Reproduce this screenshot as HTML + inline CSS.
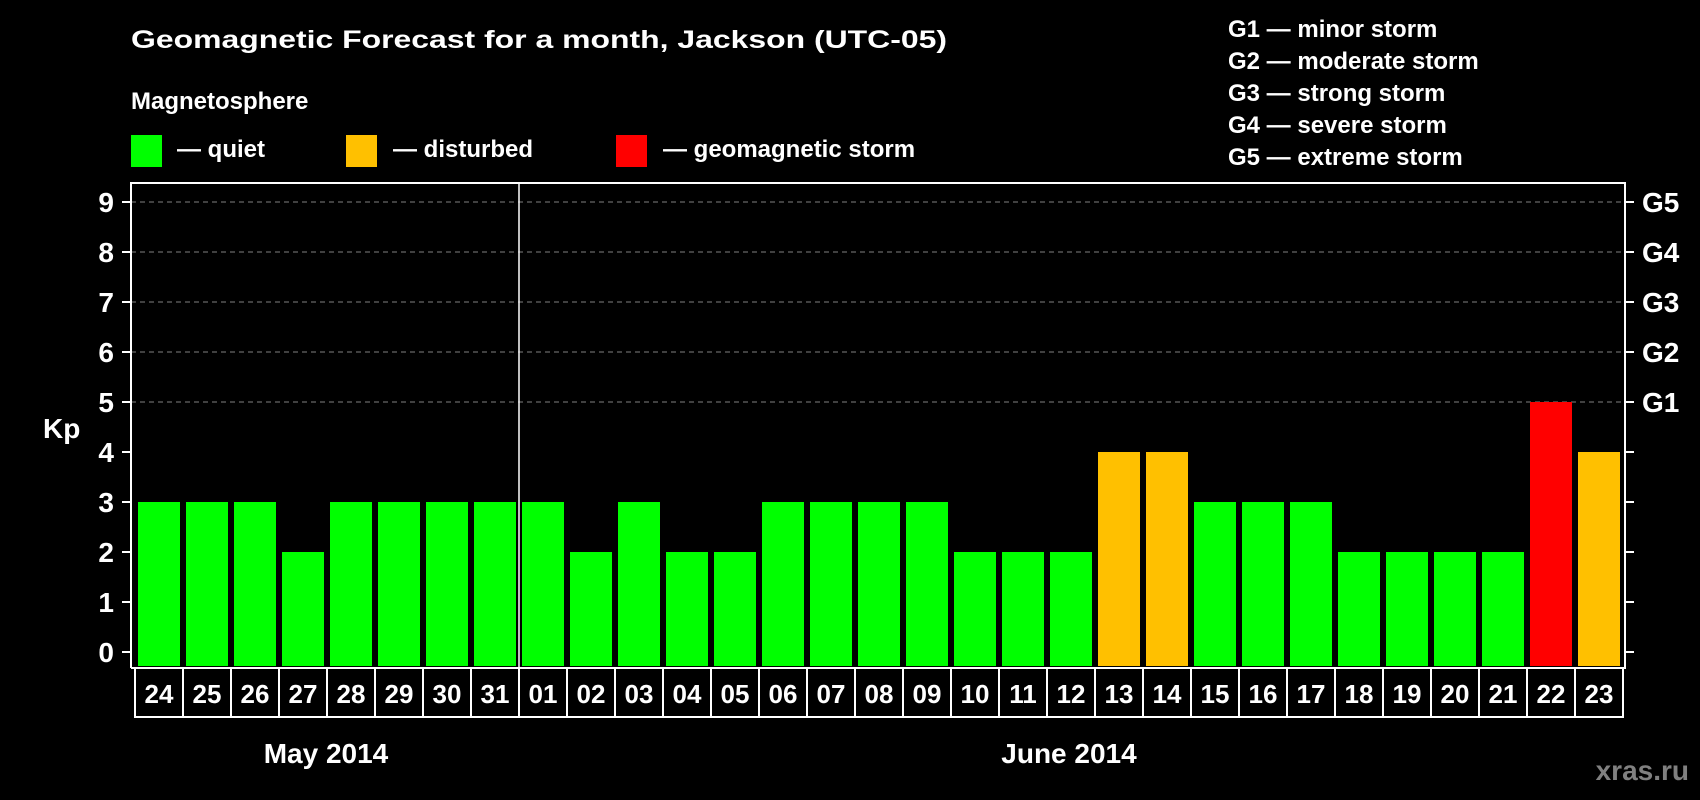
<!DOCTYPE html>
<html><head><meta charset="utf-8">
<style>html,body{margin:0;padding:0;background:#000;}svg{display:block;font-family:"Liberation Sans",sans-serif;font-weight:bold;}</style>
</head><body>
<svg id="chart" width="1700" height="800" viewBox="0 0 1700 800" xmlns="http://www.w3.org/2000/svg">
<rect width="1700" height="800" fill="#000"/>
<text x="131" y="48" fill="#fff" font-size="25" textLength="816" lengthAdjust="spacingAndGlyphs">Geomagnetic Forecast for a month, Jackson (UTC-05)</text>
<text x="131" y="109" fill="#fff" font-size="24">Magnetosphere</text>
<rect x="131" y="135" width="31" height="32" fill="#00ff00"/>
<text x="177" y="157" fill="#fff" font-size="24">— quiet</text>
<rect x="346" y="135" width="31" height="32" fill="#ffc000"/>
<text x="393" y="157" fill="#fff" font-size="24">— disturbed</text>
<rect x="616" y="135" width="31" height="32" fill="#ff0000"/>
<text x="663" y="157" fill="#fff" font-size="24">— geomagnetic storm</text>
<g fill="#fff" font-size="24">
<text x="1228" y="37">G1 — minor storm</text>
<text x="1228" y="69">G2 — moderate storm</text>
<text x="1228" y="101">G3 — strong storm</text>
<text x="1228" y="133">G4 — severe storm</text>
<text x="1228" y="165">G5 — extreme storm</text>
</g>
<text x="43" y="438" fill="#fff" font-size="28">Kp</text>
<text x="326" y="763" fill="#fff" font-size="28" text-anchor="middle">May 2014</text>
<text x="1069" y="763" fill="#fff" font-size="28" text-anchor="middle">June 2014</text>
<text x="1689" y="780" fill="#808080" font-size="28" text-anchor="end">xras.ru</text>
<g id="plot"></g>
</svg>
<script>
const days = ["24","25","26","27","28","29","30","31","01","02","03","04","05","06","07","08","09","10","11","12","13","14","15","16","17","18","19","20","21","22","23"];
const kpValues = [3,3,3,2,3,3,3,3,3,2,3,2,2,3,3,3,3,2,2,2,4,4,3,3,3,2,2,2,2,5,4];
const yTicks = [0,1,2,3,4,5,6,7,8,9];
const gLabels = ["G1","G2","G3","G4","G5"];
const gLevels = [5,6,7,8,9];
const monthSplit = 8;

const NS = "http://www.w3.org/2000/svg";
const plotG = document.getElementById("plot");
const plotLeft = 131, plotRight = 1625, plotTop = 183, plotBottom = 668;
const cellX0 = 135, cellW = 48;
const yScale = v => 652 - v * 50;
const xScale = i => cellX0 + i * cellW;
function mk(tag, attrs) { const e = document.createElementNS(NS, tag); for (const k in attrs) e.setAttribute(k, attrs[k]); plotG.appendChild(e); return e; }
function barColor(v) { return v >= 5 ? "#ff0000" : v >= 4 ? "#ffc000" : "#00ff00"; }

yTicks.forEach(t => {
  if (t >= 5) {
    const gl = mk("line", {x1: plotLeft, x2: plotRight, y1: yScale(t), y2: yScale(t), stroke: "#808080", "stroke-width": 1, "stroke-dasharray": "5,4"});
    
    
  }
  const tk = mk("line", {x1: 122, x2: plotLeft, y1: yScale(t), y2: yScale(t), stroke: "#fff", "stroke-width": 2});
  
  
  const rt = mk("line", {x1: plotRight, x2: 1634, y1: yScale(t), y2: yScale(t), stroke: "#fff", "stroke-width": 2});
  
  
  const lb = mk("text", {x: 114, y: yScale(t) + 10, fill: "#fff", "font-size": 28, "text-anchor": "end"});
  lb.textContent = t;
  
  
});
gLabels.forEach((l, i) => {
  const t = mk("text", {x: 1642, y: yScale(gLevels[i]) + 10, fill: "#fff", "font-size": 28});
  t.textContent = l;
  
  
});
kpValues.forEach((v, i) => {
  const b = mk("rect", {x: xScale(i) + 3, y: yScale(v), width: cellW - 6, height: yScale(0) - yScale(v) + 14, fill: barColor(v)});
  
  
  const c = mk("rect", {x: xScale(i), y: plotBottom, width: cellW, height: 49, fill: "none", stroke: "#fff", "stroke-width": 2});
  
  
  const t = mk("text", {x: xScale(i) + cellW / 2, y: plotBottom + 35, fill: "#fff", "font-size": 26, "text-anchor": "middle"});
  t.textContent = days[i];
  
  
});
const ax = mk("path", {d: `M${plotLeft},${plotBottom} V${plotTop} H${plotRight} V${plotBottom} H${plotLeft}`, fill: "none", stroke: "#fff", "stroke-width": 2});


const ms = mk("line", {x1: xScale(monthSplit), x2: xScale(monthSplit), y1: plotTop, y2: plotBottom, stroke: "#fff", "stroke-width": 1.5});


</script>
</body></html>
